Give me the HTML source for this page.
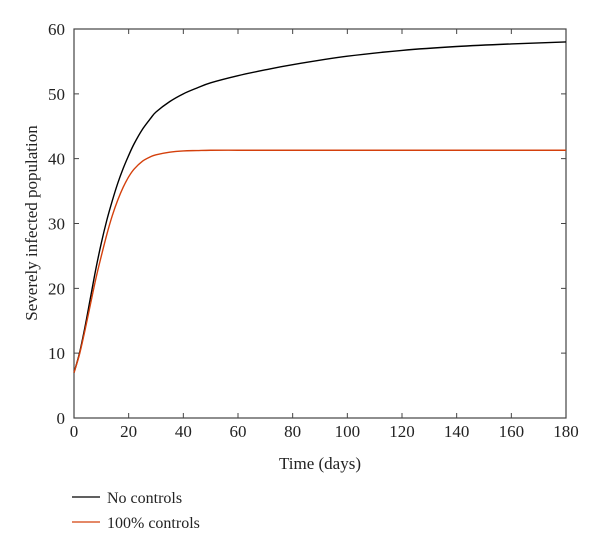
<!DOCTYPE html>
<html><head><meta charset="utf-8"><style>
body{margin:0;background:#fff;}
text{font-family:"Liberation Serif",serif;fill:#222;}
</style></head><body>
<svg width="600" height="552">
<g id="axes"></g>
<g id="series"></g>
<text x="320" y="469" font-size="17" text-anchor="middle">Time (days)</text>
<text transform="translate(37,223) rotate(-90)" font-size="17" text-anchor="middle">Severely infected population</text>
<g>
<line x1="72" y1="497" x2="100" y2="497" stroke="#000" stroke-width="1.3"/>
<text x="107" y="503" font-size="16">No controls</text>
<line x1="72" y1="522" x2="100" y2="522" stroke="#d4400c" stroke-width="1.3"/>
<text x="107" y="528" font-size="16">100% controls</text>
</g>
</svg>
<script>
const xTicks=[0,20,40,60,80,100,120,140,160,180];
const yTicks=[0,10,20,30,40,50,60];
const days=[0,2,4,6,8,10,12,14,16,18,20,22,25,28,30,35,40,45,50,60,70,80,100,120,140,160,180];
const noControls=[7,10,14,18.5,23,27,30.5,33.5,36.2,38.5,40.5,42.3,44.5,46.2,47.2,48.8,50,50.9,51.7,52.8,53.7,54.5,55.8,56.7,57.3,57.7,58];
const fullControls=[7,9.8,13.5,17.5,21.5,25,28.3,31.2,33.6,35.6,37.2,38.4,39.6,40.3,40.6,41,41.2,41.25,41.3,41.3,41.3,41.3,41.3,41.3,41.3,41.3,41.3];
const L=74,R=566,T=29,B=418;
const xs=v=>L+(v-0)/180*(R-L), ys=v=>B-v/60*(B-T);
const NS="http://www.w3.org/2000/svg";
const ax=document.getElementById('axes'), se=document.getElementById('series');
function mk(tag,attrs,parent){const e=document.createElementNS(NS,tag);for(const k in attrs)e.setAttribute(k,attrs[k]);parent.appendChild(e);return e;}
const fr=mk('rect',{x:L,y:T,width:R-L,height:B-T,fill:'none',stroke:'#444','stroke-width':1.2},ax);


xTicks.forEach(t=>{
  const l=mk('path',{d:`M${xs(t)},${B}v-5M${xs(t)},${T}v5`,stroke:'#444','stroke-width':1},ax);
  
  
  const tx=mk('text',{x:xs(t),y:B+19,'font-size':17,'text-anchor':'middle'},ax);tx.textContent=t;
  
  
});
yTicks.forEach(t=>{
  const l=mk('path',{d:`M${L},${ys(t)}h5M${R},${ys(t)}h-5`,stroke:'#444','stroke-width':1},ax);
  
  
  const tx=mk('text',{x:L-9,y:ys(t)+6,'font-size':17,'text-anchor':'end'},ax);tx.textContent=t;
  
  
});
function line(vals,color,name){
  const pts=days.map((d,i)=>[xs(d),ys(vals[i])]);
  let d=`M${pts[0][0]},${pts[0][1]}`;
  for(let i=0;i<pts.length-1;i++){
    const p0=pts[i-1]||pts[i],p1=pts[i],p2=pts[i+1],p3=pts[i+2]||p2;
    d+=`C${p1[0]+(p2[0]-p0[0])/6},${p1[1]+(p2[1]-p0[1])/6} ${p2[0]-(p3[0]-p1[0])/6},${p2[1]-(p3[1]-p1[1])/6} ${p2[0]},${p2[1]}`;
  }
  const p=mk('path',{d,fill:'none',stroke:color,'stroke-width':1.4},se);
  
  
}
line(noControls,'#000','line-no-controls');
line(fullControls,'#d4400c','line-100-controls');
</script>
</body></html>
